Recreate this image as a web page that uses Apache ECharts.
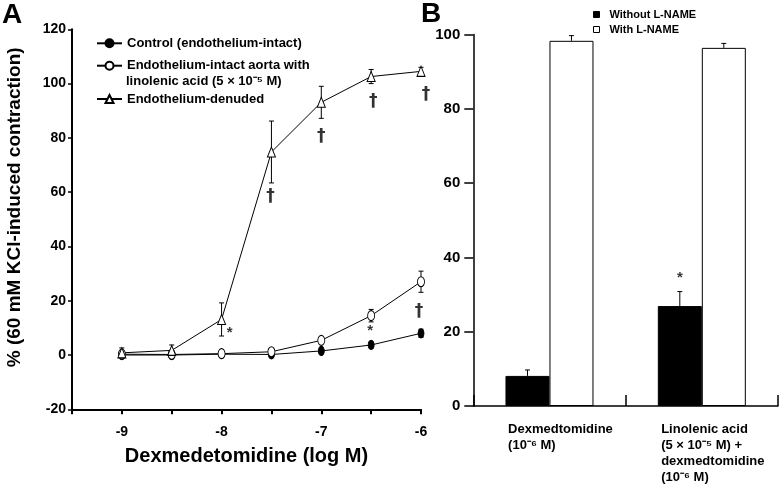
<!DOCTYPE html>
<html><head><meta charset="utf-8">
<script src="https://cdn.jsdelivr.net/npm/echarts@6/dist/echarts.min.js"></script>
<style>html,body{margin:0;padding:0;background:#fff}#c{width:780px;height:484px}</style>
</head><body><div id="c"></div>
<script>
// ---------- Panel A data ----------
const logConc = [-9, -8.5, -8, -7.5, -7, -6.5, -6];
const control = [0, 0, 0.3, 0.2, 1.5, 3.7, 8.0];
const controlErr = [0.3, 0.3, 0.3, 0.3, 0.6, 1.0, 1.5];
const linolenic = [0.3, 0.2, 0.5, 1.2, 5.4, 14.5, 27.0];
const linolenicErr = [0.5, 0.5, 0.4, 0.8, 1.0, 2.3, 3.9];
const denuded = [0.8, 1.7, 13.1, 74.8, 93.1, 102.6, 104.5];
const denudedErr = [1.8, 2.0, 6.1, 11.4, 5.9, 2.6, 1.5];
const xTickLabelsA = ['-9', '-8', '-7', '-6'];
const yTicksA = [-20, 0, 20, 40, 60, 80, 100, 120];
const marksA = [[-7.92, 8.0, '*'], [-7.51, 58.2, '†'], [-7.0, 80.3, '†'], [-6.48, 93.5, '†'],
                [-5.95, 95.8, '†'], [-6.51, 8.8, '*'], [-6.02, 16.0, '†']];
const namesA = ['Control (endothelium-intact)', 'Endothelium-intact aorta with\nlinolenic acid (5 × 10⁻⁵ M)', 'Endothelium-denuded'];

// ---------- Panel B data ----------
const barCats = ['Dexmedtomidine\n(10⁻⁶ M)', 'Linolenic acid\n(5 × 10⁻⁵ M) +\ndexmedtomidine\n(10⁻⁶ M)'];
const withoutLNAME = [8.1, 26.9];
const withoutErr = [1.6, 3.9];
const withLNAME = [98.3, 96.4];
const withErr = [1.4, 1.2];
const yTicksB = [0, 20, 40, 60, 80, 100];
const marksB = [[1, 34.6, '*']];
const namesB = ['Without L-NAME', 'With L-NAME'];

const FONT = 'Liberation Sans, Arial, sans-serif';
const BAR_W = 44;
const chart = echarts.init(document.getElementById('c'), null, {renderer: 'canvas'});

function errA(params, api) {
  const x = api.value(0), lo = api.value(1), hi = api.value(2);
  const a = api.coord([x, lo]), b = api.coord([x, hi]);
  const w = 2.5, st = {stroke: '#000', lineWidth: 1};
  return {type: 'group', children: [
    {type: 'line', shape: {x1: a[0], y1: a[1], x2: b[0], y2: b[1]}, style: st},
    {type: 'line', shape: {x1: a[0] - w, y1: a[1], x2: a[0] + w, y2: a[1]}, style: st},
    {type: 'line', shape: {x1: b[0] - w, y1: b[1], x2: b[0] + w, y2: b[1]}, style: st}
  ]};
}
function errB(offSign) {
  return function (params, api) {
    const a = api.coord([api.value(0), api.value(1)]), b = api.coord([api.value(0), api.value(2)]);
    const x = a[0] + offSign * BAR_W / 2;
    const w = 2.5, st = {stroke: '#000', lineWidth: 1};
    return {type: 'group', children: [
      {type: 'line', shape: {x1: x, y1: a[1], x2: x, y2: b[1]}, style: st},
      {type: 'line', shape: {x1: x - w, y1: b[1], x2: x + w, y2: b[1]}, style: st}
    ]};
  };
}
const pts = (arr) => logConc.map((x, i) => [x, arr[i]]);
const errs = (arr, e) => logConc.map((x, i) => [x, arr[i] - e[i], arr[i] + e[i]]);

const legTxt = {color: '#000', fontSize: 13, fontWeight: 'bold', fontFamily: FONT, lineHeight: 16};
const legBase = {left: 96, orient: 'vertical', itemWidth: 25, itemHeight: 10, padding: 0, selectedMode: false, textStyle: legTxt};
const lineBase = {type: 'line', xAxisIndex: 0, yAxisIndex: 0, lineStyle: {color: '#000', width: 1},
  emphasis: {disabled: true}, z: 3};

const option = {
  animation: false,
  backgroundColor: '#fff',
  textStyle: {fontFamily: FONT},
  title: [
    {text: 'A', left: 2, top: 1, padding: 0, textStyle: {fontSize: 28, fontWeight: 'bold', color: '#000', fontFamily: FONT}},
    {text: 'B', left: 421, top: 0, padding: 0, textStyle: {fontSize: 28, fontWeight: 'bold', color: '#000', fontFamily: FONT}}
  ],
  legend: [
    Object.assign({}, legBase, {data: [namesA[0]], top: 35.3}),
    Object.assign({}, legBase, {data: [namesA[1]], top: 57.7, formatter: n => n.split('\n')[0]}),
    Object.assign({}, legBase, {data: [namesA[1]], top: 73.7, formatter: n => n.split('\n')[1], icon: 'none',
      itemStyle: {opacity: 0}, lineStyle: {opacity: 0}}),
    Object.assign({}, legBase, {data: [namesA[2]], top: 91}),
    {data: [{name: namesB[0], itemStyle: {color: '#000', borderColor: '#000', borderWidth: 1}},
            {name: namesB[1], itemStyle: {color: '#fff', borderColor: '#000', borderWidth: 1}}],
     left: 593, top: 8, padding: 0, orient: 'vertical', icon: 'rect', itemWidth: 6, itemHeight: 6, itemGap: 2, selectedMode: false,
     textStyle: {color: '#000', fontSize: 11, fontWeight: 'bold', fontFamily: FONT, lineHeight: 13, padding: [0, 0, 0, 5]}}
  ],
  grid: [
    {left: 72, top: 29.3, width: 349, height: 380},
    {left: 473.3, top: 34.5, width: 304.7, height: 371.5}
  ],
  xAxis: [
    {type: 'value', gridIndex: 0, min: -9.5, max: -6, interval: 0.5,
     axisLine: {show: true, onZero: false, lineStyle: {color: '#000', width: 2}},
     axisTick: {show: true, length: 5, lineStyle: {color: '#000', width: 2}},
     splitLine: {show: false},
     axisLabel: {margin: 16, color: '#000', fontSize: 14, fontWeight: 'bold', fontFamily: FONT,
       formatter: v => xTickLabelsA.indexOf(String(v)) >= 0 ? String(v) : ''},
     name: 'Dexmedetomidine (log M)', nameLocation: 'middle', nameGap: 37,
     nameTextStyle: {color: '#000', fontSize: 20, fontWeight: 'bold', fontFamily: FONT}},
    {type: 'category', gridIndex: 1, data: barCats,
     axisLine: {show: true, onZero: false, lineStyle: {color: '#000', width: 1.5}},
     axisTick: {show: true, inside: true, length: 11, alignWithLabel: false, lineStyle: {color: '#000', width: 1.5}},
     splitLine: {show: false},
     axisLabel: {interval: 0, margin: 15, align: 'center', padding: [0, 0, 0, 22],
       formatter: v => v.split('\n').map(s => '{a|' + s + '}').join('\n'),
       rich: {a: {align: 'left', color: '#000', fontSize: 13, fontWeight: 'bold', fontFamily: FONT, lineHeight: 16}}}}
  ],
  yAxis: [
    {type: 'value', gridIndex: 0, min: yTicksA[0], max: yTicksA[yTicksA.length - 1], interval: yTicksA[1] - yTicksA[0],
     axisLine: {show: true, onZero: false, lineStyle: {color: '#000', width: 2}},
     axisTick: {show: true, length: 4, lineStyle: {color: '#000', width: 1.5}},
     splitLine: {show: false},
     axisLabel: {margin: 6, color: '#000', fontSize: 14, fontWeight: 'bold', fontFamily: FONT},
     name: '% (60 mM KCl-induced contraction)', nameLocation: 'middle', nameGap: 48,
     nameTextStyle: {color: '#000', fontSize: 19, fontWeight: 'bold', fontFamily: FONT, padding: [0, 0, 0, 24]}},
    {type: 'value', gridIndex: 1, min: yTicksB[0], max: yTicksB[yTicksB.length - 1], interval: yTicksB[1] - yTicksB[0],
     axisLine: {show: true, onZero: false, lineStyle: {color: '#000', width: 1.5}},
     axisTick: {show: true, length: 9, lineStyle: {color: '#000', width: 1.5}},
     splitLine: {show: false},
     axisLabel: {margin: 13, color: '#000', fontSize: 15, fontWeight: 'bold', fontFamily: FONT}}
  ],
  series: [
    {type: 'custom', xAxisIndex: 0, yAxisIndex: 0, renderItem: errA, data: errs(control, controlErr), z: 2, silent: true},
    {type: 'custom', xAxisIndex: 0, yAxisIndex: 0, renderItem: errA, data: errs(linolenic, linolenicErr), z: 2, silent: true},
    {type: 'custom', xAxisIndex: 0, yAxisIndex: 0, renderItem: errA, data: errs(denuded, denudedErr), z: 2, silent: true},
    Object.assign({}, lineBase, {name: namesA[0], data: pts(control), symbol: 'circle', symbolSize: [6, 9],
      itemStyle: {color: '#000', borderColor: '#000', borderWidth: 1}}),
    Object.assign({}, lineBase, {name: namesA[1], data: pts(linolenic), symbol: 'circle', symbolSize: [7, 10],
      itemStyle: {color: '#fff', borderColor: '#000', borderWidth: 1}}),
    Object.assign({}, lineBase, {name: namesA[2], data: pts(denuded), symbol: 'triangle', symbolSize: [8, 10],
      itemStyle: {color: '#fff', borderColor: '#000', borderWidth: 1}}),
    {type: 'scatter', xAxisIndex: 0, yAxisIndex: 0, symbolSize: 0, silent: true, z: 4, clip: false,
     data: marksA.map(m => ({value: [m[0], m[1]], label: m[2] === '†'
        ? {formatter: m[2], fontSize: 17, fontFamily: 'DejaVu Sans, ' + FONT}
        : {formatter: m[2], fontSize: 15}})),
     label: {show: true, position: 'inside', color: '#000', fontWeight: 'bold', fontFamily: FONT}},
    {type: 'bar', name: namesB[0], xAxisIndex: 1, yAxisIndex: 1, data: withoutLNAME, barWidth: BAR_W, barGap: '0%',
     itemStyle: {color: '#000', borderColor: '#000', borderWidth: 1}, emphasis: {disabled: true}},
    {type: 'bar', name: namesB[1], xAxisIndex: 1, yAxisIndex: 1, data: withLNAME, barWidth: BAR_W, barGap: '0%',
     itemStyle: {color: '#fff', borderColor: '#000', borderWidth: 1}, emphasis: {disabled: true}},
    {type: 'custom', xAxisIndex: 1, yAxisIndex: 1, renderItem: errB(-1), silent: true, z: 3,
     data: withoutLNAME.map((v, i) => [i, v, v + withoutErr[i]])},
    {type: 'custom', xAxisIndex: 1, yAxisIndex: 1, renderItem: errB(1), silent: true, z: 3,
     data: withLNAME.map((v, i) => [i, v, v + withErr[i]])},
    {type: 'scatter', xAxisIndex: 1, yAxisIndex: 1, symbolSize: 0, silent: true, z: 4,
     data: marksB.map(m => ({value: [m[0], m[1]], label: {formatter: m[2]}})),
     label: {show: true, position: 'inside', offset: [-BAR_W / 2, 0], color: '#000', fontSize: 15, fontWeight: 'bold', fontFamily: FONT}}
  ]
};
chart.setOption(option);
</script></body></html>
